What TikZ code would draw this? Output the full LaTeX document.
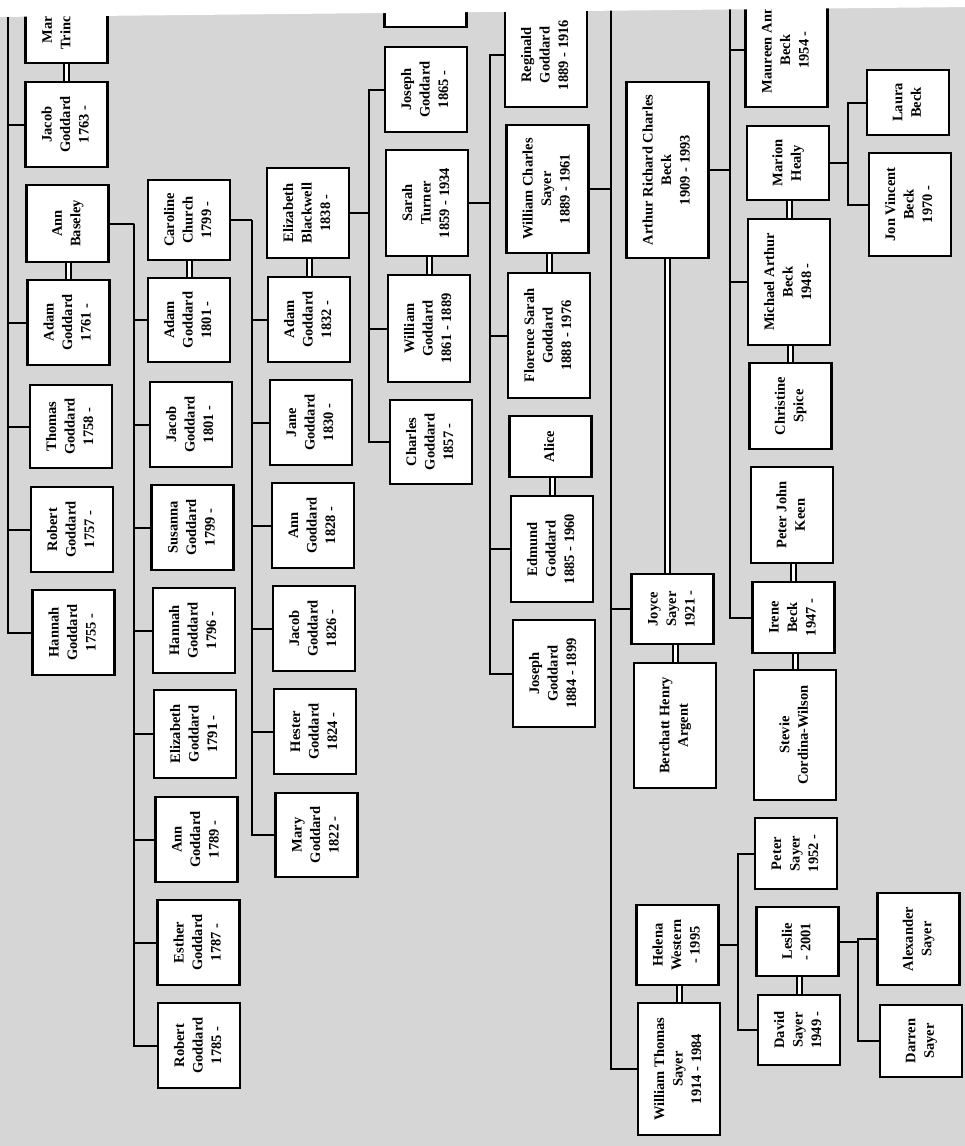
\documentclass[tikz,border=0pt]{standalone}
\usepackage{fontspec}
\setmainfont{Liberation Serif}
\usepackage{graphicx}
\usepackage{xcolor}
\definecolor{paper}{gray}{0.84}
\newcommand{\nm}[1]{\rotatebox{90}{\begin{tabular}{@{}c@{}}#1\end{tabular}}}

\begin{document}
\begin{tikzpicture}[
    x=1pt, y=-1pt,
    person/.style={draw, line width=2.1pt, fill=white, inner sep=0pt,
                   minimum width=82, minimum height=#1,
                   font=\fontsize{14.5}{18.5}\selectfont\bfseries},
    kin/.style={line width=2pt},
    spouse/.style={double, double distance=3pt, line width=2pt},
]
\useasboundingbox (0,0) rectangle (965,1146);
\fill[paper] (0,0) rectangle (965,1146);

\node[person=83] (maryT) at (66.5,21.5) {};
\node[anchor=north, inner sep=0pt, font=\fontsize{14.5}{18.5}\selectfont\bfseries] (maryTtxt) at (57.5,16)
    {\rotatebox{90}{\begin{tabular}{@{}r@{}}Mar\\Trinc\end{tabular}}};
\node[person=85] (jacobA) at (66.5,124.5) {\nm{Jacob\\Goddard\\1763 -}};
\node[person=77] (annBas) at (67.5,223.5) {\nm{Ann\\Baseley}};
\node[person=85] (adamA) at (68.5,322.5) {\nm{Adam\\Goddard\\1761 -}};
\node[person=83] (thomasA) at (71,426.5) {\nm{Thomas\\Goddard\\1758 -}};
\node[person=85] (robertA) at (72,529.5) {\nm{Robert\\Goddard\\1757 -}};
\node[person=85] (hannahA) at (73.5,632.5) {\nm{Hannah\\Goddard\\1755 -}};

\node[person=80] (caroline) at (189,220) {\nm{Caroline\\Church\\1799 -}};
\node[person=84] (adamB) at (189,320) {\nm{Adam\\Goddard\\1801 -}};
\node[person=85] (jacobB) at (191,424.5) {\nm{Jacob\\Goddard\\1801 -}};
\node[person=85] (susanna) at (192.5,527.5) {\nm{Susanna\\Goddard\\1799 -}};
\node[person=85] (hannahB) at (194,630.5) {\nm{Hannah\\Goddard\\1796 -}};
\node[person=88] (elizB) at (195,734) {\nm{Elizabeth\\Goddard\\1791 -}};
\node[person=85] (annB) at (196.5,839.5) {\nm{Ann\\Goddard\\1789 -}};
\node[person=85] (esther) at (198.5,942.5) {\nm{Esther\\Goddard\\1787 -}};
\node[person=85] (robertB) at (199,1045.5) {\nm{Robert\\Goddard\\1785 -}};

\node[person=90] (elizBw) at (308,213) {\nm{Elizabeth\\Blackwell\\1838 -}};
\node[person=85] (adamC) at (309,319.5) {\nm{Adam\\Goddard\\1832 -}};
\node[person=85] (jane) at (311,422.5) {\nm{Jane\\Goddard\\1830 -}};
\node[person=85] (annC) at (313,525.5) {\nm{Ann\\Goddard\\1828 -}};
\node[person=85] (jacobC) at (314,628.5) {\nm{Jacob\\Goddard\\1826 -}};
\node[person=85] (hester) at (315,731.5) {\nm{Hester\\Goddard\\1824 -}};
\node[person=84] (maryC) at (316.5,835) {\nm{Mary\\Goddard\\1822 -}};

\node[person=57] (topbox) at (425.5,-1.5) {};
\node[person=85] (josephD) at (426,89.5) {\nm{Joseph\\Goddard\\1865 -}};
\node[person=106] (sarahT) at (427,203) {\nm{Sarah\\Turner\\1859 - 1934}};
\node[person=107] (williamG) at (429,328.5) {\nm{William\\Goddard\\1861 - 1889}};
\node[person=84] (charles) at (431,442) {\nm{Charles\\Goddard\\1857 -}};

\node[person=104] (reginald) at (546,55) {\nm{Reginald\\Goddard\\1889 - 1916}};
\node[person=128] (williamCS) at (547.5,189) {\nm{William Charles\\Sayer\\1889 - 1961}};
\node[person=125] (florence) at (549,335.5) {\nm{Florence Sarah\\Goddard\\1888 - 1976}};
\node[person=61] (alice) at (550.5,446.5) {\nm{Alice}};
\node[person=106] (edmund) at (552,549) {\nm{Edmund\\Goddard\\1885 - 1960}};
\node[person=107] (josephE) at (554,673.5) {\nm{Joseph\\Goddard\\1884 - 1899}};

\node[person=176] (arthur) at (667.5,170) {\nm{Arthur Richard Charles\\Beck\\1909 - 1993}};
\node[person=70] (joyce) at (672.5,609) {\nm{Joyce\\Sayer\\1921 -}};
\node[person=125] (berchatt) at (675,725.5) {\nm{Berchatt Henry\\Argent}};
\node[person=80] (helena) at (677.5,945) {\nm{Helena\\Western\\- 1995}};
\node[person=132] (williamTS) at (679,1069) {\nm{William Thomas\\Sayer\\1914 - 1984}};

\node[person=114] (maureen) at (786.5,50) {\nm{Maureen Ann\\Beck\\1954 -}};
\node[person=74] (marion) at (788,163) {\nm{Marion\\Healy}};
\node[person=126] (michael) at (789,282) {\nm{Michael Arthur\\Beck\\1948 -}};
\node[person=86] (christine) at (790.5,406) {\nm{Christine\\Spice}};
\node[person=96] (peterJK) at (792,515) {\nm{Peter John\\Keen}};
\node[person=71] (irene) at (793.5,617.5) {\nm{Irene\\Beck\\1947 -}};
\node[person=130] (stevie) at (795,735) {\nm{Stevie\\Cordina-Wilson}};
\node[person=71] (peterS) at (796,853.5) {\nm{Peter\\Sayer\\1952 -}};
\node[person=69] (leslie) at (797.5,941.5) {\nm{Leslie\\- 2001}};
\node[person=70] (david) at (799,1030) {\nm{David\\Sayer\\1949 -}};

\node[person=65] (laura) at (908,102.5) {\nm{Laura\\Beck}};
\node[person=103] (jon) at (910,204.5) {\nm{Jon Vincent\\Beck\\1970 -}};
\node[person=92] (alexander) at (918.5,939) {\nm{Alexander\\Sayer}};
\node[person=72] (darren) at (921,1041) {\nm{Darren\\Sayer}};

\coordinate (t1) at (8,10);
\coordinate (t2) at (134,223.5);
\coordinate (t3) at (252,220);
\coordinate (t4) at (369,213);
\coordinate (t5) at (490,203);
\coordinate (t6) at (611,8);
\coordinate (t7) at (730,8);
\coordinate (t8) at (848,163);
\coordinate (t9) at (738,945);
\coordinate (t10) at (858,941.5);

\draw[spouse] (jacobA.north) -- (jacobA.north |- maryT.south);
\draw[spouse] (adamA.north) -- (adamA.north |- annBas.south);
\draw[spouse] (adamB.north) -- (adamB.north |- caroline.south);
\draw[spouse] (adamC.north) -- (adamC.north |- elizBw.south);
\draw[spouse] (williamG.north) -- (williamG.north |- sarahT.south);
\draw[spouse] (florence.north) -- (florence.north |- williamCS.south);
\draw[spouse] (edmund.north) -- (edmund.north |- alice.south);
\draw[spouse] (arthur.south) -- (arthur.south |- joyce.north);
\draw[spouse] (berchatt.north) -- (berchatt.north |- joyce.south);
\draw[spouse] (williamTS.north) -- (williamTS.north |- helena.south);
\draw[spouse] (michael.north) -- (michael.north |- marion.south);
\draw[spouse] (christine.north) -- (christine.north |- michael.south);
\draw[spouse] (irene.north) -- (irene.north |- peterJK.south);
\draw[spouse] (stevie.north) -- (stevie.north |- irene.south);
\draw[spouse] (david.north) -- (david.north |- leslie.south);

\draw[kin] (t1) |- (jacobA.west);
\draw[kin] (t1) |- (adamA.west);
\draw[kin] (t1) |- (thomasA.west);
\draw[kin] (t1) |- (robertA.west);
\draw[kin] (t1) |- (hannahA.west);

\draw[kin] (annBas.east) -- (t2);
\draw[kin] (t2) |- (adamB.west);
\draw[kin] (t2) |- (jacobB.west);
\draw[kin] (t2) |- (susanna.west);
\draw[kin] (t2) |- (hannahB.west);
\draw[kin] (t2) |- (elizB.west);
\draw[kin] (t2) |- (annB.west);
\draw[kin] (t2) |- (esther.west);
\draw[kin] (t2) |- (robertB.west);

\draw[kin] (caroline.east) -- (t3);
\draw[kin] (t3) |- (adamC.west);
\draw[kin] (t3) |- (jane.west);
\draw[kin] (t3) |- (annC.west);
\draw[kin] (t3) |- (jacobC.west);
\draw[kin] (t3) |- (hester.west);
\draw[kin] (t3) |- (maryC.west);

\draw[kin] (elizBw.east) -- (t4);
\draw[kin] (t4) |- (josephD.west);
\draw[kin] (t4) |- (williamG.west);
\draw[kin] (t4) |- (charles.west);

\draw[kin] (sarahT.east) -- (t5);
\draw[kin] (t5) |- (reginald.west);
\draw[kin] (t5) |- (florence.west);
\draw[kin] (t5) |- (edmund.west);
\draw[kin] (t5) |- (josephE.west);

\draw[kin] (williamCS.east) -- (williamCS.east -| t6);
\draw[kin] (t6) |- (joyce.west);
\draw[kin] (t6) |- (williamTS.west);

\draw[kin] (arthur.east) -- (arthur.east -| t7);
\draw[kin] (t7) |- (maureen.west);
\draw[kin] (t7) |- (michael.west);
\draw[kin] (t7) |- (irene.west);

\draw[kin] (marion.east) -- (t8);
\draw[kin] (t8) |- (laura.west);
\draw[kin] (t8) |- (jon.west);

\draw[kin] (helena.east) -- (t9);
\draw[kin] (t9) |- (peterS.west);
\draw[kin] (t9) |- (david.west);

\draw[kin] (leslie.east) -- (t10);
\draw[kin] (t10) |- (alexander.west);
\draw[kin] (t10) |- (darren.west);

\fill[white] (-5,-60) -- (970,-60) -- (970,7) -- (-5,17) -- cycle;
\end{tikzpicture}
\end{document}
